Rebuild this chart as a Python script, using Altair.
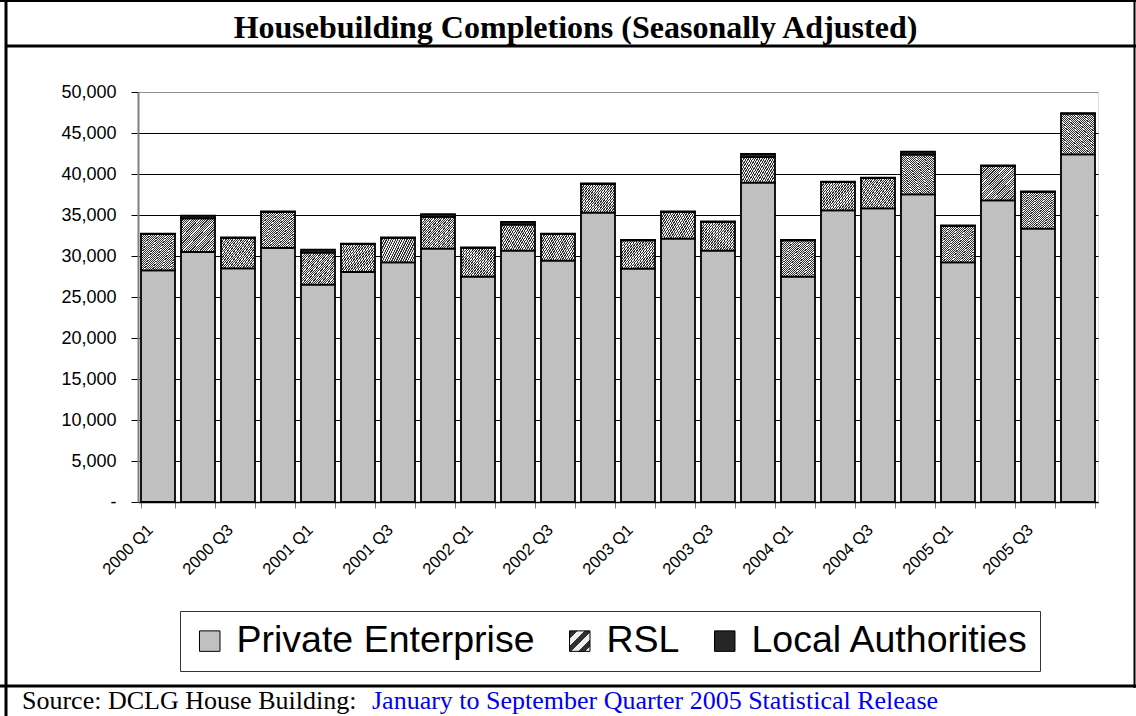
import altair as alt
import pandas as pd

quarters = ["2000 Q1", "2000 Q2", "2000 Q3", "2000 Q4",
            "2001 Q1", "2001 Q2", "2001 Q3", "2001 Q4",
            "2002 Q1", "2002 Q2", "2002 Q3", "2002 Q4",
            "2003 Q1", "2003 Q2", "2003 Q3", "2003 Q4",
            "2004 Q1", "2004 Q2", "2004 Q3", "2004 Q4",
            "2005 Q1", "2005 Q2", "2005 Q3", "2005 Q4"]

private_enterprise = [28250, 30490, 28500, 30980, 26500, 28050, 29230, 30890,
                      27480, 30650, 29430, 35280, 28460, 32110, 30650, 38940,
                      27480, 35570, 35810, 37520, 29230, 36790, 33330, 42400]
rsl = [4430, 4100, 3700, 4390, 3910, 3410, 2970, 3870,
       3500, 3170, 3250, 3500, 3450, 3260, 3500, 3130,
       4430, 3450, 3700, 4840, 4430, 4190, 4480, 4960]
local_authorities = [60, 330, 60, 60, 370, 60, 60, 330,
                     60, 330, 60, 60, 60, 60, 60, 370,
                     60, 60, 60, 370, 60, 60, 60, 60]

series_names = ["Private Enterprise", "RSL", "Local Authorities"]
series_values = [private_enterprise, rsl, local_authorities]

title_text = "Housebuilding Completions (Seasonally Adjusted)"
source_text = "Source: DCLG House Building:"
link_text = "January to September Quarter 2005 Statistical Release"

rows = []
for i, q in enumerate(quarters):
    for k, (name, vals) in enumerate(zip(series_names, series_values)):
        rows.append({"quarter": q, "series": name, "value": vals[i], "order": k})
df = pd.DataFrame(rows)

# hatch pattern for RSL as a finely striped linear gradient
n_stripes = 38
stops = []
for i in range(n_stripes):
    a = i / n_stripes
    b = (i + 0.5) / n_stripes
    c = (i + 1) / n_stripes
    stops.append("{offset: %.4f, color: '#303030'}" % a)
    stops.append("{offset: %.4f, color: '#303030'}" % b)
    stops.append("{offset: %.4f, color: '#eeeeee'}" % b)
    stops.append("{offset: %.4f, color: '#eeeeee'}" % c)
hatch_expr = "{gradient: 'linear', x1: 0, y1: 0, x2: 1, y2: 1, stops: [" + ", ".join(stops) + "]}"

color_range = ["#c0c0c0", {"expr": hatch_expr}, "#262626"]

bars = alt.Chart(df).mark_bar(stroke="black", strokeWidth=1.8).encode(
    x=alt.X("quarter:N", sort=quarters,
            scale=alt.Scale(paddingInner=0.15, paddingOuter=0.075),
            axis=alt.Axis(title=None, tickBand="extent", labelAngle=-45, labelAlign="right",
                          labelBaseline="middle", labelFont="Liberation Sans", labelFontSize=16.5,
                          labelColor="black", labelPadding=19, labelOffset=-8,
                          labelExpr="test(/Q[13]$/, datum.label) ? datum.label : ''",
                          tickColor="#808080", tickSize=6, domainColor="black", domainWidth=1.5,
                          grid=False, labelOverlap=False)),
    y=alt.Y("value:Q", stack="zero",
            scale=alt.Scale(domain=[0, 50000], nice=False),
            axis=alt.Axis(title=None, values=list(range(0, 50001, 5000)),
                          labelExpr="datum.value == 0 ? '-' : format(datum.value, ',')",
                          labelFont="Liberation Sans", labelFontSize=18, labelColor="black",
                          labelPadding=15, tickSize=7, tickColor="black",
                          domainColor="#808080", domainWidth=2, grid=True,
                          gridColor={"condition": {"test": "datum.value == 50000", "value": "#909090"},
                                     "value": "black"},
                          gridWidth=1)),
    color=alt.Color("series:N",
                    scale=alt.Scale(domain=series_names, range=color_range),
                    legend=alt.Legend(title=None, orient="none", direction="horizontal",
                                      legendX=42, legendY=519,
                                      labelFont="Liberation Sans", labelFontSize=37.5,
                                      labelColor="black", labelLimit=600,
                                      symbolType="square", symbolSize=420,
                                      symbolStrokeColor="black", symbolStrokeWidth=1,
                                      labelOffset=8, columnPadding=26, padding=11,
                                      strokeColor="#333333", fillColor="white")),
    order=alt.Order("order:Q"),
)

one = pd.DataFrame({"t": [title_text]})

def rule(x1, x2, y1, y2, w):
    return alt.Chart(one).mark_rule(color="black", strokeWidth=w).encode(
        x=alt.value(x1), x2=alt.value(x2), y=alt.value(y1), y2=alt.value(y2))

frame = [
    rule(-132, -132, -92, 624, 3),
    rule(996.5, 996.5, -92, 596, 2),
    rule(-138, 998, -91, -91, 2),
    rule(-132, 998, -46, -46, 3),
    rule(-138, 998, 594, 594, 3),
]

title = alt.Chart(one).mark_text(font="Liberation Serif", fontSize=32, fontWeight="bold",
                                 color="black", align="center", baseline="middle").encode(
    x=alt.value(437.5), y=alt.value(-64), text="t:N")

src = alt.Chart(pd.DataFrame({"t": [source_text]})).mark_text(
    font="Liberation Serif", fontSize=26, color="black", align="left", baseline="middle").encode(
    x=alt.value(-116), y=alt.value(609), text="t:N")

link = alt.Chart(pd.DataFrame({"t": [link_text]})).mark_text(
    font="Liberation Serif", fontSize=26, color="#0000ee", align="left", baseline="middle").encode(
    x=alt.value(234), y=alt.value(609), text="t:N")

chart = alt.layer(bars, *frame, title, src, link).properties(
    width=960, height=410,
    padding={"left": 138, "top": 92, "right": 38, "bottom": 214},
    autosize="none",
).configure_view(stroke="#808080", strokeWidth=2).configure(background="white")

chart.save("out.html", embed_options={"renderer": "svg", "actions": False})
